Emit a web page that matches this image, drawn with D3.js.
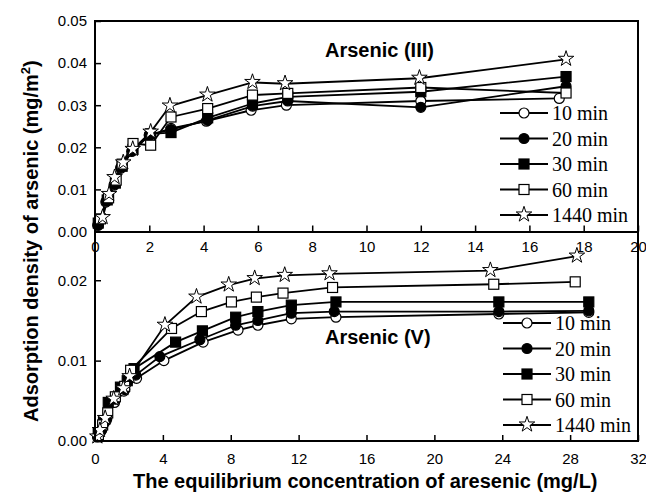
<!DOCTYPE html>
<html>
<head>
<meta charset="utf-8">
<script src="https://cdn.jsdelivr.net/npm/d3@7"></script>
<style>
  body { margin: 0; background: #fff; }
  svg { display: block; }
</style>
</head>
<body>
<div id="chart"></div>
<script>
// series names, shared by both panels
const seriesNames = ["10 min", "20 min", "30 min", "60 min", "1440 min"];
const markerTypes = ["circleOpen", "circleFilled", "squareFilled", "squareOpen", "star"];

// Arsenic (III) panel: [Ce (mg/L), q (mg/m2)]
const as3_10 = [[0.1,0.0015],[0.4,0.007],[0.7,0.011],[0.95,0.015],[1.35,0.019],[2.0,0.0228],[2.8,0.0245],[4.1,0.0262],[5.75,0.0288],[7.05,0.030],[12.0,0.031],[17.1,0.0316]];
const as3_20 = [[0.12,0.0015],[0.42,0.0072],[0.72,0.0112],[0.95,0.0152],[1.38,0.0192],[2.0,0.023],[2.8,0.0242],[4.15,0.0264],[5.8,0.0298],[7.1,0.031],[12.0,0.0295],[17.35,0.0345]];
const as3_30 = [[0.12,0.002],[0.45,0.0075],[0.75,0.0115],[1.0,0.0155],[1.4,0.0195],[2.05,0.0232],[2.8,0.0235],[4.15,0.027],[5.8,0.0304],[7.1,0.032],[12.0,0.0332],[17.35,0.0368]];
const as3_60 = [[0.2,0.003],[0.5,0.008],[0.78,0.0122],[1.0,0.016],[1.4,0.0209],[2.05,0.0205],[2.8,0.0272],[4.15,0.0292],[5.8,0.0324],[7.1,0.0328],[12.0,0.0342],[17.35,0.0329]];
const as3_1440 = [[0.28,0.0033],[0.52,0.0088],[0.72,0.0128],[1.04,0.0163],[1.39,0.0195],[2.05,0.0236],[2.76,0.0298],[4.14,0.0324],[5.8,0.0354],[7.0,0.0351],[11.95,0.0364],[17.35,0.0409]];

// Arsenic (V) panel
const as5_10 = [[0.15,0.0005],[0.35,0.0012],[0.65,0.0025],[1.15,0.0048],[1.7,0.0062],[2.45,0.0078],[4.06,0.0100],[6.37,0.0123],[8.43,0.0138],[9.6,0.0144],[11.57,0.0152],[14.2,0.0154],[23.8,0.0158],[29.1,0.0160]];
const as5_20 = [[0.15,0.0006],[0.4,0.0014],[0.7,0.0028],[1.2,0.0052],[1.75,0.0064],[2.4,0.0082],[3.82,0.0105],[6.18,0.0126],[8.29,0.0144],[9.6,0.0150],[11.57,0.0159],[14.1,0.0161],[23.8,0.0161],[29.1,0.0162]];
const as5_30 = [[0.2,0.001],[0.5,0.0025],[0.78,0.0048],[1.5,0.0067],[1.9,0.0075],[2.3,0.0090],[4.75,0.0123],[6.33,0.0137],[8.29,0.0154],[9.6,0.0161],[11.57,0.0169],[14.2,0.0173],[23.8,0.0173],[29.1,0.0173]];
const as5_60 = [[0.2,0.0008],[0.45,0.002],[0.75,0.0035],[1.2,0.0055],[1.75,0.0068],[2.1,0.0088],[4.51,0.0140],[6.27,0.0161],[8.04,0.0173],[9.51,0.0179],[11.08,0.0184],[14.0,0.0191],[23.5,0.0195],[28.3,0.0198]];
const as5_1440 = [[0.14,0.0005],[0.29,0.0013],[0.6,0.0028],[1.1,0.0052],[1.67,0.0065],[2.04,0.008],[4.12,0.0144],[5.98,0.0179],[7.88,0.0194],[9.41,0.0202],[11.18,0.0206],[13.82,0.0208],[23.3,0.0212],[28.4,0.0230]];

const topXTicks = [0, 2, 4, 6, 8, 10, 12, 14, 16, 18, 20];
const topYTicks = [0, 0.01, 0.02, 0.03, 0.04, 0.05];
const botXTicks = [0, 4, 8, 12, 16, 20, 24, 28, 32];
const botYTicks = [0, 0.01, 0.02];

const width = 646, height = 493;
const left = 95, right = 638;
const topY0 = 21, midY = 232, botY = 441;

const svg = d3.select("#chart").append("svg")
    .attr("width", width)
    .attr("height", height);

const sans = "'Liberation Sans', Arial, sans-serif";
const serif = "'Liberation Serif', 'Times New Roman', serif";

function drawMarker(g, type, x, y) {
    if (type === "circleOpen" || type === "circleFilled") {
        g.append("circle").attr("cx", x).attr("cy", y).attr("r", 5)
            .attr("fill", type === "circleFilled" ? "#000" : "#fff")
            .attr("stroke", "#000").attr("stroke-width", 1.2);
    } else if (type === "squareOpen" || type === "squareFilled") {
        g.append("rect").attr("x", x - 5).attr("y", y - 5).attr("width", 10).attr("height", 10)
            .attr("fill", type === "squareFilled" ? "#000" : "#fff")
            .attr("stroke", "#000").attr("stroke-width", 1.2);
    } else {
        g.append("path")
            .attr("d", d3.symbol().type(d3.symbolStar).size(75)())
            .attr("transform", `translate(${x},${y - 0.5})`)
            .attr("fill", "#fff").attr("stroke", "#000").attr("stroke-width", 1);
    }
}

function drawPanel(seriesList, xScale, yScale, xTicks, yTicks, xPad) {
    const g = svg.append("g");

    // axes (ticks point inward)
    g.append("g")
        .attr("transform", `translate(0,${yScale.range()[0]})`)
        .call(d3.axisBottom(xScale).tickValues(xTicks).tickFormat(d3.format("d"))
            .tickSize(-6).tickPadding(xPad))
        .call(a => a.select(".domain").remove())
        .call(a => a.selectAll("line").attr("stroke-width", 1.5))
        .call(a => a.selectAll("text").attr("font-family", sans).attr("font-size", 15).attr("fill", "#000"));

    g.append("g")
        .attr("transform", `translate(${left},0)`)
        .call(d3.axisLeft(yScale).tickValues(yTicks).tickFormat(d3.format(".2f"))
            .tickSize(-6).tickPadding(8))
        .call(a => a.select(".domain").remove())
        .call(a => a.selectAll("line").attr("stroke-width", 1.5))
        .call(a => a.selectAll("text").attr("font-family", sans).attr("font-size", 15).attr("fill", "#000"));

    const line = d3.line().x(d => xScale(d[0])).y(d => yScale(d[1]));

    seriesList.forEach(s => {
        g.append("path").datum(s)
            .attr("d", line)
            .attr("fill", "none")
            .attr("stroke", "#000")
            .attr("stroke-width", 1.8);
    });

    seriesList.forEach((s, i) => {
        s.forEach(d => drawMarker(g, markerTypes[i], xScale(d[0]), yScale(d[1])));
    });
}

function drawLegend(x0, y0, step) {
    const g = svg.append("g");
    seriesNames.forEach((name, i) => {
        const y = y0 + i * step;
        g.append("line").attr("x1", x0).attr("x2", x0 + 48).attr("y1", y).attr("y2", y)
            .attr("stroke", "#000").attr("stroke-width", 2);
        drawMarker(g, markerTypes[i], x0 + 24, y);
        g.append("text").attr("x", x0 + 52).attr("y", y + 7)
            .attr("font-family", serif).attr("font-size", 20).attr("fill", "#000")
            .text(name);
    });
}

// top panel: Arsenic (III)
const xTop = d3.scaleLinear().domain([0, 20]).range([left, right]);
const yTop = d3.scaleLinear().domain([0, 0.05]).range([midY - 0.5, topY0]);
drawPanel([as3_10, as3_20, as3_30, as3_60, as3_1440], xTop, yTop, topXTicks, topYTicks, 10);

// bottom panel: Arsenic (V)
const xBot = d3.scaleLinear().domain([0, 32]).range([left, right]);
const yBot = d3.scaleLinear().domain([0, 0.026]).range([botY, midY]);
drawPanel([as5_10, as5_20, as5_30, as5_60, as5_1440], xBot, yBot, botXTicks, botYTicks, 12);

// frame
svg.append("path")
    .attr("d", `M${left},${botY}V${topY0}H${right}V${botY}Z M${left},${midY}H${right}`)
    .attr("fill", "none").attr("stroke", "#000").attr("stroke-width", 2);

drawLegend(500, 113, 25.5);
drawLegend(503, 323, 25.5);

svg.append("text").attr("x", 325).attr("y", 57)
    .attr("font-family", sans).attr("font-weight", "bold").attr("font-size", 20)
    .text("Arsenic (III)");
svg.append("text").attr("x", 325).attr("y", 344)
    .attr("font-family", sans).attr("font-weight", "bold").attr("font-size", 20)
    .text("Arsenic (V)");

// axis titles
svg.append("text")
    .attr("transform", "translate(38,422) rotate(-90)")
    .attr("text-anchor", "start")
    .attr("font-family", sans).attr("font-weight", "bold").attr("font-size", 20)
    .html("Adsorption density of arsenic (mg/m<tspan dy='-8' font-size='13'>2</tspan><tspan dy='8'>)</tspan>");

svg.append("text")
    .attr("x", 133).attr("y", 488)
    .attr("text-anchor", "start")
    .attr("font-family", sans).attr("font-weight", "bold").attr("font-size", 20)
    .text("The equilibrium concentration of aresenic (mg/L)");
</script>
</body>
</html>
